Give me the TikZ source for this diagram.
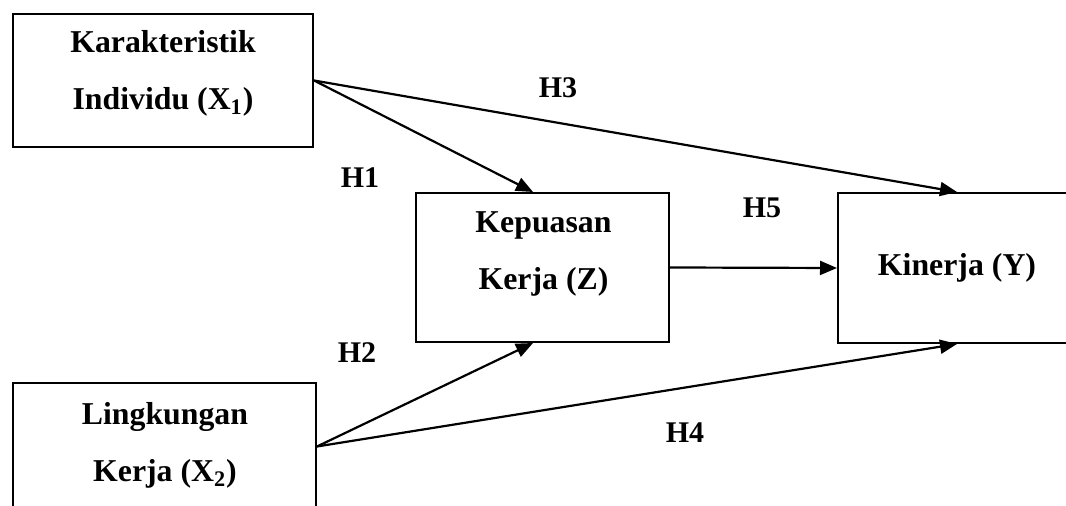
\documentclass[tikz,border=0pt]{standalone}
\usepackage{fontspec}
\setmainfont{Liberation Serif}
\usepackage{tikz}
\tikzstyle{var} = [draw, thick, black, inner sep=0pt, line width=1pt]
\tikzstyle{txt} = [align=center, inner sep=0pt, font=\fontsize{15.9}{28.5}\selectfont\bfseries]
\tikzstyle{hyp} = [inner sep=0pt, font=\fontsize{15}{18}\selectfont\bfseries]
\tikzstyle{b} = [line width=1.1pt, black, -{Triangle[length=8.5pt,width=7pt]}]
\usetikzlibrary{arrows.meta,calc}

\begin{document}
\begin{tikzpicture}[
    x=0.5pt, y=-0.5pt
]
\useasboundingbox (0,0) rectangle (1066,506);
\clip (0,0) rectangle (1066,506);

% Boxes
\node[var, minimum width=150pt, minimum height=66.5pt] (X1) at (163,80.5) {};
\node[var, minimum width=151.5pt, minimum height=63.5pt] (X2) at (164.5,446.5) {};
\node[var, minimum width=126.5pt, minimum height=74.5pt] (Z) at (542.5,267.5) {};
\node[var, minimum width=119pt, minimum height=75pt] (Y) at (957,268) {};

% Texts
\node[txt] (X1t) at (163,73.5) {Karakteristik\\Individu (X\textsubscript{1})};
\node[txt] (X2t) at (165,445.5) {Lingkungan\\Kerja (X\textsubscript{2})};
\node[txt] (Zt) at (543.5,253.5) {Kepuasan\\Kerja (Z)};
\node[txt] (Yt) at (957,268) {Kinerja (Y)};

% Arrows
\draw[b] (X1.east) -- ([xshift=-4.75pt]Z.north);
\draw[b] (X1.east) -- (Y.north);
\draw[b] (X2.east) -- ([xshift=-4.75pt]Z.south);
\draw[b] (X2.east) -- (Y.south);
\draw[b] (Z.east) -- (Y.west);

% Hypotheses
\node[hyp] (H1) at (360,178) {H1};
\node[hyp] (H2) at (357,353) {H2};
\node[hyp] (H3) at (558,88) {H3};
\node[hyp] (H4) at (685,433) {H4};
\node[hyp] (H5) at (762,208) {H5};

\end{tikzpicture}
\end{document}
